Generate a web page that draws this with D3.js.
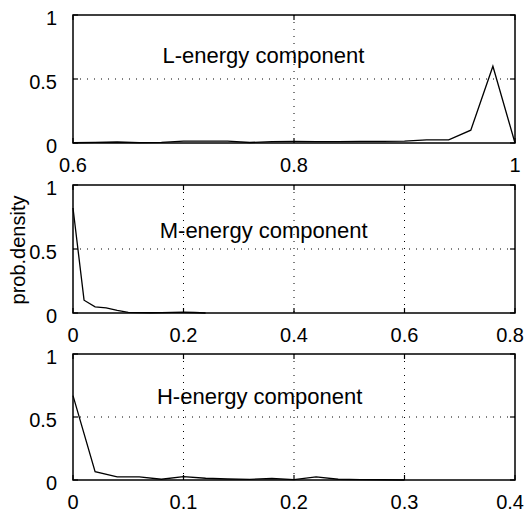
<!DOCTYPE html>
<html lang="en">
<head>
<meta charset="utf-8">
<title>prob.density - energy components</title>
<script type="text/javascript" src="https://d3js.org/d3.v7.min.js"></script>
<style>
body { margin: 0; background: #fff; }
svg { display: block; }
text { font-family: "Liberation Sans", Arial, sans-serif; fill: #000; }
.grid line { stroke: #000; stroke-width: 1; stroke-dasharray: 1,6; }
.frame { fill: none; stroke: #000; stroke-width: 1.5; }
.curve { fill: none; stroke: #000; stroke-width: 1.3; }
</style>
</head>
<body>
<div id="chart"></div>
<script type="text/javascript">

// L-energy component (x: 0.6 .. 1, step 0.02)
var lX = [0.60, 0.62, 0.64, 0.66, 0.68, 0.70, 0.72, 0.74, 0.76, 0.78, 0.80,
          0.82, 0.84, 0.86, 0.88, 0.90, 0.92, 0.94, 0.96, 0.98, 1.00];
var lY = [0.002, 0.005, 0.008, 0.003, 0.005, 0.014, 0.015, 0.014, 0.004, 0.011, 0.012,
          0.010, 0.010, 0.012, 0.012, 0.014, 0.024, 0.025, 0.10, 0.60, 0.0];

// M-energy component
var mX = [0.00, 0.02, 0.04, 0.06, 0.08, 0.10, 0.12, 0.14, 0.16, 0.18, 0.20, 0.22, 0.24];
var mY = [0.82, 0.10, 0.048, 0.04, 0.02, 0.005, 0.003, 0.002, 0.003, 0.005, 0.006, 0.004, 0.0];

// H-energy component
var hX = [0.00, 0.02, 0.04, 0.06, 0.08, 0.10, 0.12, 0.14, 0.16, 0.18, 0.20,
          0.22, 0.24, 0.26, 0.28, 0.30];
var hY = [0.67, 0.066, 0.025, 0.025, 0.006, 0.026, 0.014, 0.008, 0.005, 0.012, 0.003,
          0.025, 0.006, 0.003, 0.002, 0.0];

var yTicks = [0, 0.5, 1];
var yTickLabels = ["0", "0.5", "1"];

var panels = [
    {name: "L-energy component", xs: lX, ys: lY, domain: [0.6, 1], ticks: [0.6, 0.8, 1],
     labels: ["0.6", "0.8", "1"], top: 15, height: 128, textAt: [0.681, 0.625]},
    {name: "M-energy component", xs: mX, ys: mY, domain: [0, 0.8], ticks: [0, 0.2, 0.4, 0.6, 0.8],
     labels: ["0", "0.2", "0.4", "0.6", "0.8"], top: 185, height: 128, textAt: [0.157, 0.586]},
    {name: "H-energy component", xs: hX, ys: hY, domain: [0, 0.4], ticks: [0, 0.1, 0.2, 0.3, 0.4],
     labels: ["0", "0.1", "0.2", "0.3", "0.4"], top: 354, height: 126, textAt: [0.076, 0.606]}
];

var W = 526, H = 515;
var left = 73, right = 515;
var fontSize = 20;
var tickLen = 5;

var svg = d3.select("#chart").append("svg")
    .attr("width", W)
    .attr("height", H);

panels.forEach(function(p) {
    var x = d3.scaleLinear().domain(p.domain).range([left, right]);
    var y = d3.scaleLinear().domain([0, 1]).range([p.top + p.height, p.top]);
    var g = svg.append("g");

    // dotted grid on inner ticks
    var grid = g.append("g").attr("class", "grid");
    grid.selectAll(".gx")
        .data(p.ticks.filter(function(t) { return t > p.domain[0] && t < p.domain[1]; }))
        .enter().append("line")
            .attr("x1", function(d) { return x(d); })
            .attr("x2", function(d) { return x(d); })
            .attr("y1", y(1))
            .attr("y2", y(0));
    grid.selectAll(".gy")
        .data([0.5])
        .enter().append("line")
            .attr("x1", left)
            .attr("x2", right)
            .attr("y1", function(d) { return y(d); })
            .attr("y2", function(d) { return y(d); });

    // curve
    var line = d3.line()
        .x(function(d) { return x(d[0]); })
        .y(function(d) { return y(d[1]); });
    g.append("path")
        .attr("class", "curve")
        .attr("d", line(d3.zip(p.xs, p.ys)));

    // inward ticks on all sides
    var ticks = g.append("g").attr("stroke", "#000").attr("stroke-width", 1.2);
    p.ticks.forEach(function(t) {
        ticks.append("line").attr("x1", x(t)).attr("x2", x(t))
            .attr("y1", y(0)).attr("y2", y(0) - tickLen);
        ticks.append("line").attr("x1", x(t)).attr("x2", x(t))
            .attr("y1", y(1)).attr("y2", y(1) + tickLen);
    });
    yTicks.forEach(function(t) {
        ticks.append("line").attr("x1", left).attr("x2", left + tickLen)
            .attr("y1", y(t)).attr("y2", y(t));
        ticks.append("line").attr("x1", right).attr("x2", right - tickLen)
            .attr("y1", y(t)).attr("y2", y(t));
    });

    g.append("rect")
        .attr("class", "frame")
        .attr("x", left)
        .attr("y", p.top)
        .attr("width", right - left)
        .attr("height", p.height);

    // tick labels (keep the last one inside the window)
    g.selectAll(".xl")
        .data(p.ticks)
        .enter().append("text")
            .attr("y", y(0) + 29)
            .attr("text-anchor", "middle")
            .style("font-size", fontSize + "px")
            .text(function(d, i) { return p.labels[i]; })
            .attr("x", function(d) {
                var half = this.getComputedTextLength() / 2;
                return Math.min(x(d), W - 2 - half);
            });
    g.selectAll(".yl")
        .data(yTicks)
        .enter().append("text")
            .attr("x", left - 16)
            .attr("y", function(d) { return y(d) + 10; })
            .attr("text-anchor", "end")
            .style("font-size", fontSize + "px")
            .text(function(d, i) { return yTickLabels[i]; });

    // component name
    g.append("text")
        .attr("x", x(p.textAt[0]))
        .attr("y", y(p.textAt[1]))
        .style("font-size", "22px")
        .text(p.name);
});

svg.append("text")
    .attr("transform", "translate(25,250) rotate(-90)")
    .attr("text-anchor", "middle")
    .style("font-size", fontSize + "px")
    .text("prob.density");

</script>
</body>
</html>
